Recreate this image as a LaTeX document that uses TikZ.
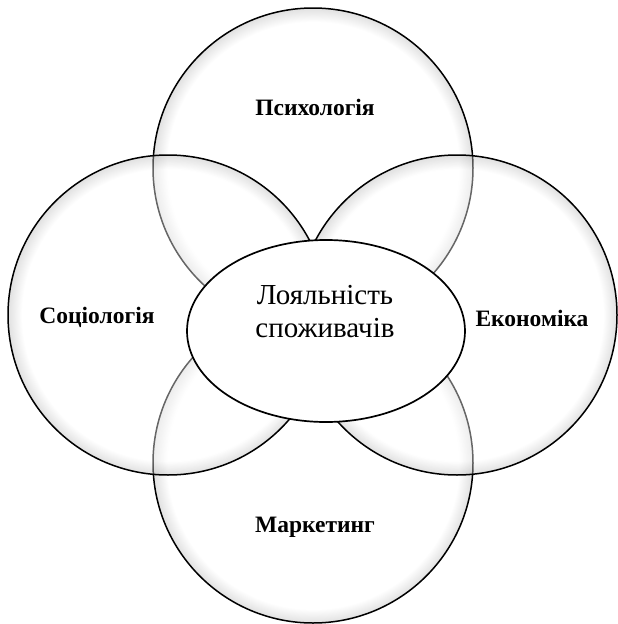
\documentclass[tikz,border=0pt]{standalone}
\usepackage{fontspec}
\setmainfont{Liberation Serif}
\usepackage{tikz}
\usetikzlibrary{shapes.geometric}

% soft grey rim inside each circle
\pgfdeclareradialshading{rim}{\pgfpoint{0bp}{0bp}}{%
  color(0bp)=(white); color(22.8bp)=(white);
  color(25bp)=(black!30); color(50bp)=(black!30)}

\begin{document}
\begin{tikzpicture}[
  x=1pt,y=-1pt,
  field/.style={circle,draw=black,line width=1.5pt,shading=rim,
    fill opacity=0.4,minimum size=320pt,inner sep=0pt},
  core/.style={ellipse,draw=black,line width=1.7pt,fill=white,
    minimum width=278pt,minimum height=182pt,inner sep=0pt},
  lbl/.style={font=\fontsize{23.5}{28}\selectfont\bfseries,inner sep=0pt},
  corelbl/.style={font=\fontsize{29}{33}\selectfont,align=center,inner sep=0pt}
]
\useasboundingbox (0,0) rectangle (618,624);
% four fields of knowledge
\node[field] (psy) at (313,168) {};
\node[field] (mkt) at (313,463) {};
\node[field] (soc) at (168,315) {};
\node[field] (eco) at (457,315) {};
% the central notion
\node[core] (loy) at (326,331) {};
\node[corelbl] (loyt) at (325,312) {Лояльність\\споживачів};
% labels of the fields
\node[lbl] (psyt) at (315,107) {Психологія};
\node[lbl] (soct) at (97,317) {Соціологія};
\node[lbl] (ecot) at (532,318) {Економіка};
\node[lbl] (mktt) at (315,527) {Маркетинг};
\end{tikzpicture}
\end{document}
